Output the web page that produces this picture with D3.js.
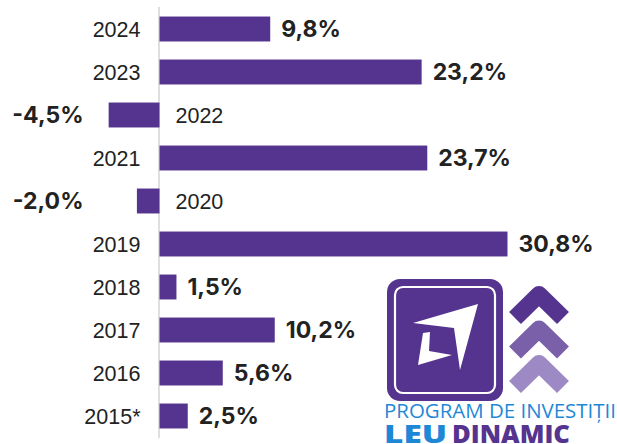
<!DOCTYPE html>
<html><head><meta charset="utf-8">
<script src="https://cdn.jsdelivr.net/npm/d3@7"></script>
<style>
html,body{margin:0;padding:0;background:#fff;}
svg{display:block;}
</style></head>
<body>
<svg id="c" width="617" height="444"></svg>
<script>
const years = ["2024","2023","2022","2021","2020","2019","2018","2017","2016","2015*"];
const values = [9.8, 23.2, -4.5, 23.7, -2.0, 30.8, 1.5, 10.2, 5.6, 2.5];
const valueLabels = ["9,8%","23,2%","-4,5%","23,7%","-2,0%","30,8%","1,5%","10,2%","5,6%","2,5%"];

const svg = d3.select("#c");
const x = d3.scaleLinear().domain([0, 30.8]).range([159.5, 507.5]);
const y = d3.scaleBand().domain(years).range([7.5, 437.5]).paddingInner(0.42).paddingOuter(0.21);
const data = years.map((yr,i)=>({yr, v:values[i], lab:valueLabels[i]}));
const purple = "#55348f";

// axis line
svg.append("line").attr("x1", x(0)-0.5).attr("x2", x(0)-0.5).attr("y1", 7).attr("y2", 438)
  .attr("stroke", "#d4d4d4").attr("stroke-width", 1.5);

svg.selectAll("rect.bar").data(data).join("rect").attr("class","bar")
  .attr("x", d => Math.min(x(0), x(d.v)))
  .attr("width", d => Math.abs(x(d.v)-x(0)))
  .attr("y", d => y(d.yr)).attr("height", y.bandwidth())
  .attr("fill", purple);

svg.selectAll("text.yr").data(data).join("text").attr("class","yr")
  .attr("x", d => d.v >= 0 ? x(0) - 19 : x(0) + 16)
  .attr("text-anchor", d => d.v >= 0 ? "end" : "start")
  .attr("y", d => y(d.yr) + y.bandwidth()/2).attr("dy", "0.36em")
  .attr("font-family", "'Liberation Sans', Arial, sans-serif").attr("font-size", 21.5)
  .attr("fill", "#222").text(d => d.yr);

svg.selectAll("text.val").data(data).join("text").attr("class","val")
  .attr("x", d => d.v >= 0 ? x(d.v) + 11 : x(0) - 76)
  .attr("text-anchor", d => d.v >= 0 ? "start" : "end")
  .attr("y", d => y(d.yr) + y.bandwidth()/2).attr("dy", "0.36em")
  .attr("font-family", "Inter, sans-serif").attr("font-weight", 700).attr("font-size", 23)
  .attr("fill", "#222").text(d => d.lab);

// logo
const g = svg.append("g");
g.append("rect").attr("x",387).attr("y",279).attr("width",116).attr("height",122).attr("rx",13).attr("fill",purple);
g.append("rect").attr("x",395).attr("y",287).attr("width",100).attr("height",106).attr("rx",8)
  .attr("fill","none").attr("stroke","#fff").attr("stroke-width",2.2);
g.append("path").attr("d","M413,323 L478,304 L460,370 L454,328 Z").attr("fill","#fff");
g.append("path").attr("d","M423,333 L430,332 L429,351 L452,355 L418,365 Z").attr("fill","#fff");
const chev = [{a:284,c:"#55348f"},{a:318.5,c:"#7a5fa9"},{a:353,c:"#9d89c3"}];
g.selectAll("polyline.ch").data(chev).join("polyline").attr("class","ch")
  .attr("points", d => `515,${d.a+34} 539,${d.a+10.5} 563,${d.a+34}`)
  .attr("fill","none").attr("stroke", d=>d.c).attr("stroke-width",17)
  .attr("stroke-linejoin","round");
g.append("text").attr("x",384).attr("y",418).attr("font-family","'Open Sans', sans-serif")
  .attr("font-weight",400).attr("font-size",19.5).attr("fill","#1f88d6")
  .attr("textLength",232).attr("lengthAdjust","spacingAndGlyphs").text("PROGRAM DE INVESTIȚII");
g.append("text").attr("x",384).attr("y",443).attr("font-family","'Open Sans', sans-serif")
  .attr("font-weight",800).attr("font-size",24.5).attr("fill","#1f88d6")
  .attr("textLength",63).attr("lengthAdjust","spacingAndGlyphs").text("LEU");
g.append("text").attr("x",452).attr("y",443).attr("font-family","'Open Sans', sans-serif")
  .attr("font-weight",800).attr("font-size",24.5).attr("fill",purple)
  .attr("textLength",118).attr("lengthAdjust","spacingAndGlyphs").text("DINAMIC");
</script>
</body></html>
